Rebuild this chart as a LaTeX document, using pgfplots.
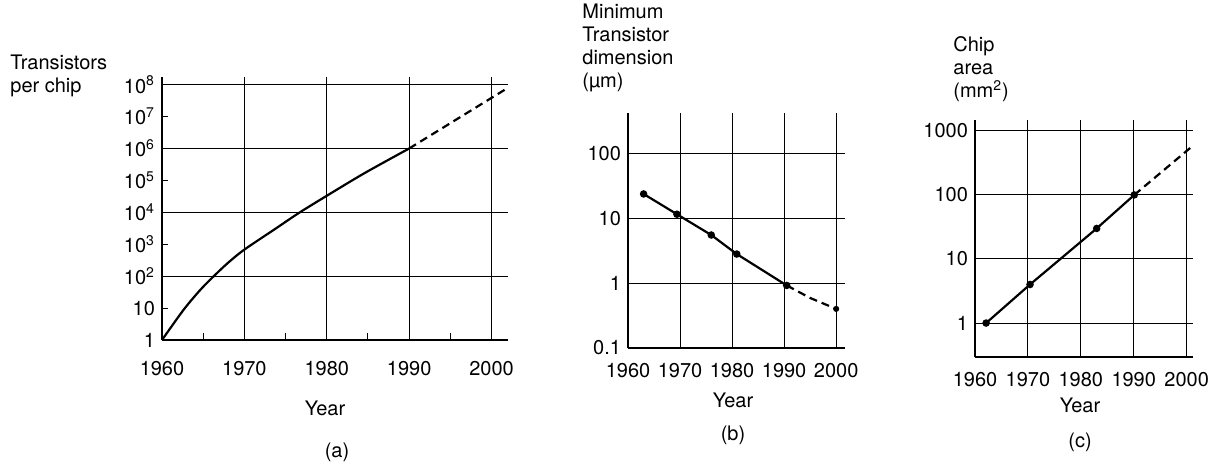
\documentclass[border=0pt]{standalone}
\usepackage{fontspec}
\setmainfont{TeX Gyre Heros}
\usepackage{pgfplots}
\pgfplotsset{compat=1.18}

\pgfplotsset{
  panel/.style={
    scale only axis, anchor=south west,
    axis x line*=bottom, axis y line*=left,
    axis line style={-, line width=0.8pt},
    yminorticks=false,
    grid style={black, line width=0.5pt},
    xtick={1960,1970,1980,1990,2000},
    xticklabels={1960,1970,1980,1990,2000},
    xtick style={draw=none},
    ytick style={draw=none},
    xticklabel style={yshift=-4pt},
    /pgf/number format/assume math mode=true,
    font=\fontsize{10}{11.5}\selectfont,
  },
  trend/.style={black, line width=1.1pt, mark=none},
  proj/.style={black, line width=1.1pt, mark=none, dash pattern=on 4pt off 2.5pt},
}

\begin{document}
\fontsize{10}{11.5}\selectfont
\begin{tikzpicture}
\useasboundingbox (0,0) rectangle (611.5pt,233pt);

% (a) transistors per chip
\begin{axis}[panel, ymode=log, at={(81pt,63pt)}, width=173pt, height=131.5pt,
  xmin=1960, xmax=2002, ymin=1, ymax=1.74e8,
  xmajorgrids, xticklabel style={yshift=-3pt},
  minor xtick={1965,1975,1985,1995},
  minor x tick style={draw=black, line width=0.5pt}, minor tick length=3.5pt,
  ytick={1,10,1e2,1e3,1e4,1e5,1e6,1e7,1e8},
  yticklabels={1,10,10\textsuperscript{2},10\textsuperscript{3},10\textsuperscript{4},10\textsuperscript{5},10\textsuperscript{6},10\textsuperscript{7},10\textsuperscript{8}},
  ytick style={draw=black, line width=0.5pt}, major tick length=3pt,
  extra y ticks={1e2,1e4,1e6,1e8}, extra y tick labels={},
  extra y tick style={ymajorgrids=true, major tick length=0pt},
]
\addplot[trend, smooth] coordinates {
  (1960,1) (1962.6,8.7) (1964.6,36) (1966.2,95) (1968,260) (1970,680)
  (1973.8,3100) (1976.6,9500) (1980,3.3e4) (1984.6,1.7e5) (1990,1e6)};
\addplot[proj] coordinates {(1990,1e6) (2002,8e7)};
\end{axis}
\node[align=left, anchor=north west, inner sep=0pt] at (5pt,205.5pt) {Transistors\\per chip};
\node at (162.5pt,29pt) {Year};
\node at (168.5pt,7pt) {(a)};

% (b) minimum transistor dimension
\begin{axis}[panel, ymode=log, at={(314pt,59pt)}, width=108.5pt, height=117.5pt,
  xmin=1960, xmax=2001.7, ymin=0.1, ymax=417,
  xmajorgrids, ymajorgrids,
  ytick={0.1,1,10,100}, yticklabels={0.1,1,10,100},
]
\addplot[trend, mark=*, mark size=1.3pt] coordinates {
  (1963,23.6) (1969.4,11.5) (1976,5.5) (1980.9,2.8) (1990.5,0.92)};
\addplot[proj] coordinates {(1990.5,0.92) (1995,0.59) (2000,0.4)};
\addplot[black, only marks, mark=*, mark size=1.3pt] coordinates {(2000,0.4)};
\end{axis}
\node[align=left, anchor=north west, inner sep=0pt] at (291pt,231pt) {Minimum\\Transistor\\dimension\\(µm)};
\node at (366.5pt,33pt) {Year};
\node at (366.5pt,15.5pt) {(b)};

% (c) chip area
\begin{axis}[panel, ymode=log, at={(487.5pt,54.5pt)}, width=109pt, height=118.5pt,
  xmin=1960, xmax=2001.2, ymin=0.295, ymax=1480,
  xmajorgrids, ymajorgrids,
  ytick={1,10,100,1000}, yticklabels={1,10,100,1000},
]
\addplot[trend, mark=*, mark size=1.3pt] coordinates {
  (1962.1,1) (1970.4,4) (1983,30) (1990.1,100)};
\addplot[proj] coordinates {(1990.1,100) (2001.2,590)};
\end{axis}
\node[align=left, anchor=north west, inner sep=0pt] at (476.5pt,215pt) {Chip\\area\\(mm\textsuperscript{2})};
\node at (540pt,30.5pt) {Year};
\node at (540pt,12pt) {(c)};
\end{tikzpicture}
\end{document}
